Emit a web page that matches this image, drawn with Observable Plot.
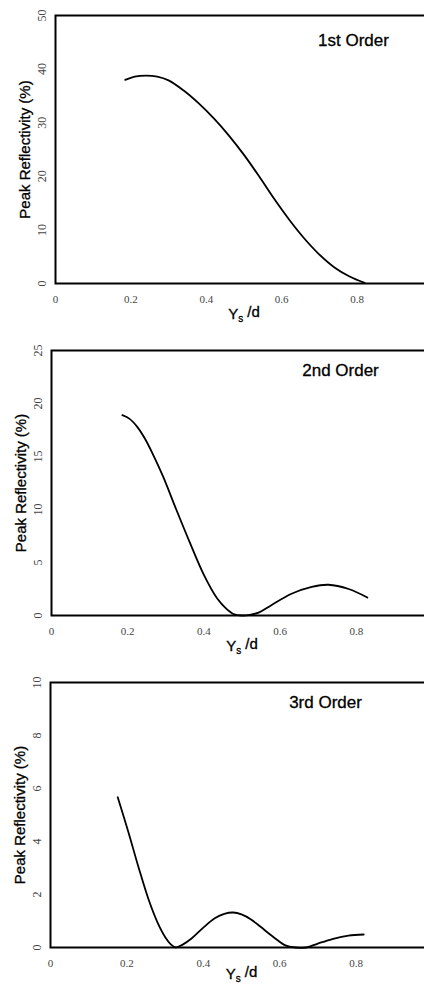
<!DOCTYPE html>
<html>
<head>
<meta charset="utf-8">
<script src="https://cdn.jsdelivr.net/npm/d3@7"></script>
<script src="https://cdn.jsdelivr.net/npm/@observablehq/plot@0.6"></script>
<style>
  html, body { margin: 0; padding: 0; background: #fff; overflow: hidden; }
  #charts { width: 424px; overflow: hidden; }
  #charts svg { display: block; max-width: none !important; }
</style>
</head>
<body>
<div id="charts"></div>
<script>
// Peak reflectivity versus normalized position Ys/d for the first three diffraction orders
const xTicks = [0, 0.2, 0.4, 0.6, 0.8];

const order1Ys = [0.185, 0.21, 0.24, 0.27, 0.30, 0.34, 0.38, 0.42, 0.46, 0.50, 0.54, 0.58, 0.62, 0.66, 0.70, 0.74, 0.78, 0.82];
const order1R  = [38.0, 38.6, 38.8, 38.6, 37.9, 36.0, 33.6, 30.8, 27.6, 24.0, 20.0, 15.8, 11.9, 8.4, 5.4, 3.0, 1.3, 0.1];
const order1Ticks = [0, 10, 20, 30, 40, 50];

const order2Ys = [0.186, 0.205, 0.225, 0.245, 0.265, 0.293, 0.328, 0.364, 0.399, 0.434, 0.46, 0.48, 0.50, 0.52, 0.545, 0.576, 0.63, 0.683, 0.727, 0.78, 0.829];
const order2R  = [18.9, 18.55, 17.8, 16.7, 15.3, 13.1, 9.95, 6.8, 3.9, 1.65, 0.6, 0.1, 0, 0.05, 0.3, 0.95, 2.05, 2.7, 2.9, 2.5, 1.7];
const order2Ticks = [0, 5, 10, 15, 20, 25];

const order3Ys = [0.176, 0.204, 0.231, 0.257, 0.28, 0.30, 0.315, 0.328, 0.345, 0.37, 0.40, 0.43, 0.455, 0.478, 0.50, 0.525, 0.55, 0.585, 0.615, 0.64, 0.67, 0.70, 0.74, 0.78, 0.82];
const order3R  = [5.67, 4.35, 3.0, 1.8, 0.95, 0.4, 0.12, 0, 0.1, 0.35, 0.75, 1.1, 1.27, 1.32, 1.25, 1.06, 0.78, 0.38, 0.08, 0, 0, 0.15, 0.33, 0.45, 0.49];
const order3Ticks = [0, 2, 4, 6, 8, 10];

const titles = ["1st Order", "2nd Order", "3rd Order"];

const panels = [
  {title: titles[0], xs: order1Ys, ys: order1R, ticks: order1Ticks, height: 330, top: 15, bottom: 47, left: 55, tdx: 298, tdy: 25, xlab: 35},
  {title: titles[1], xs: order2Ys, ys: order2R, ticks: order2Ticks, height: 330, top: 20, bottom: 45, left: 51, tdx: 289, tdy: 20, xlab: 35},
  {title: titles[2], xs: order3Ys, ys: order3R, ticks: order3Ticks, height: 329, top: 22, bottom: 42, left: 50, tdx: 275, tdy: 20, xlab: 31}
];

const container = document.getElementById("charts");

for (const p of panels) {
  const data = p.xs.map((x, i) => ({x, y: p.ys[i]}));
  const yMax = p.ticks[p.ticks.length - 1];
  const chart = Plot.plot({
    width: 432,
    height: p.height,
    marginTop: p.top,
    marginBottom: p.bottom,
    marginLeft: p.left,
    marginRight: 0,
    style: {fontFamily: "'Liberation Sans', Arial, sans-serif", background: "#fff", color: "#000"},
    x: {domain: [0, 1]},
    y: {domain: [0, yMax]},
    marks: [
      Plot.axisX({
        ticks: xTicks,
        tickSize: 0,
        tickPadding: 12,
        tickFormat: d => d === 0 ? "0" : d3.format(".1f")(d),
        fontFamily: "'Liberation Serif', serif",
        fontSize: 11,
        fill: "#444",
        label: "Ys /d",
        labelAnchor: "center",
        labelOffset: p.xlab
      }),
      Plot.axisY({
        ticks: p.ticks,
        tickSize: 0,
        tickPadding: 10,
        tickRotate: -90,
        fontFamily: "'Liberation Serif', serif",
        fontSize: 12,
        fill: "#444",
        label: "Peak Reflectivity (%)",
        labelAnchor: "center",
        labelArrow: false,
        labelOffset: 36
      }),
      Plot.frame({stroke: "#000", strokeWidth: 2}),
      Plot.line(data, {x: "x", y: "y", curve: "catmull-rom", stroke: "#000", strokeWidth: 1.8}),
      Plot.text([p.title], {
        frameAnchor: "top-left",
        dx: p.tdx,
        dy: p.tdy,
        text: d => d,
        textAnchor: "middle",
        lineAnchor: "middle",
        fontSize: 17,
        fill: "#000",
        stroke: "#000",
        strokeWidth: 0.3
      })
    ]
  });

  // axis label styling; subscript on Ys
  const svg = d3.select(chart);
  svg.selectAll('g[aria-label="x-axis label"] text, g[aria-label="y-axis label"] text')
    .attr("font-family", "'Liberation Sans', Arial, sans-serif")
    .attr("font-size", 15)
    .attr("fill", "#000")
    .attr("stroke", "#000")
    .attr("stroke-width", 0.3);
  svg.selectAll('g[aria-label="x-axis label"] text').each(function() {
    const t = d3.select(this);
    t.text(null);
    t.append("tspan").text("Y");
    t.append("tspan").attr("font-size", 10).attr("dy", "0.35em").text("s");
    t.append("tspan").attr("dy", "-0.35em").text(" /d");
  });
  container.appendChild(chart);
}
</script>
</body>
</html>
